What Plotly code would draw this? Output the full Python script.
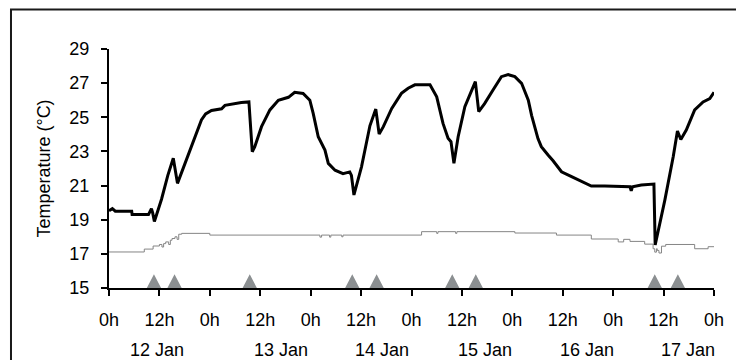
import plotly.graph_objects as go

# ---- data (hours since 12 Jan 0h, temperature in °C) ----
air_hours = [0, 0.8, 1.5, 5.4, 5.5, 9.4, 10.1, 10.4, 10.8, 12.5, 14.0, 15.3, 16.3, 17.5, 18.9,
             20.5, 22.0, 23.0, 24.4, 26.8, 27.6, 31.5, 33.3, 34.1, 34.7, 36.3, 38.3, 40.3, 42.7,
             44.2, 46.2, 47.8, 48.6, 49.8, 51.4, 52.2, 53.8, 55.7, 57.3, 57.7, 58.3, 60.1, 62.1,
             63.5, 64.3, 65.3, 67.3, 69.6, 71.2, 72.8, 76.4, 78.0, 79.5, 80.7, 81.4, 82.1, 83.1,
             84.7, 86.3, 87.2, 88.0, 89.4, 91.4, 93.4, 95.0, 96.6, 98.2, 99.8, 100.6, 101.4,
             102.1, 102.9, 103.7, 104.5, 105.7, 106.9, 107.7, 110.1, 112.4, 114.8, 118.0, 124.0,
             124.3, 124.6, 126.7, 128.7, 129.7, 130.0, 132.3, 134.3, 135.3, 136.1, 137.4, 139.4,
             141.4, 143.0, 144.0]
air_temp = [19.53, 19.65, 19.5, 19.5, 19.3, 19.3, 19.65, 19.4, 18.9, 20.2, 21.6, 22.6, 21.13,
            21.9, 22.9, 23.9, 24.84, 25.2, 25.4, 25.5, 25.7, 25.87, 25.9, 22.98, 23.28, 24.45,
            25.43, 26.0, 26.17, 26.46, 26.4, 26.0, 25.23, 23.86, 23.08, 22.3, 21.9, 21.7, 21.8,
            21.6, 20.45, 22.1, 24.5, 25.48, 24.02, 24.45, 25.52, 26.4, 26.7, 26.9, 26.9, 26.2,
            24.64, 23.77, 23.57, 22.3, 23.86, 25.62, 26.6, 27.09, 25.33, 25.8, 26.6, 27.38,
            27.5, 27.38, 26.99, 26.0, 25.1, 24.35, 23.75, 23.28, 23.0, 22.79, 22.45, 22.1, 21.81,
            21.52, 21.23, 20.97, 20.97, 20.93, 20.7, 20.93, 21.03, 21.09, 21.09, 17.52, 20.15,
            22.7, 24.2, 23.7, 24.25, 25.43, 25.9, 26.1, 26.46]

floor_hours = [0, 8.4, 10.5, 12.0, 12.6, 13.0, 13.5, 14.2, 14.6, 15.0, 15.7, 16.2, 16.6, 17.3,
               24.0, 50.2, 50.6, 52.5, 52.8, 55.4, 55.7, 74.4, 78.0, 78.3, 82.5, 82.8, 96.6,
               106.5, 114.8, 121.2, 122.5, 124.0, 127.5, 129.5, 129.9, 130.3, 130.5, 130.9,
               131.5, 132.5, 139.4, 142.6, 144.0]
floor_temp = [17.11, 17.28, 17.46, 17.55, 17.4, 17.6, 17.7, 17.55, 17.8, 17.9, 18.0, 17.85,
              18.15, 18.2, 18.1, 17.98, 18.1, 17.98, 18.1, 18.0, 18.1, 18.3, 18.2, 18.3, 18.2,
              18.3, 18.22, 18.1, 17.87, 17.7, 17.85, 17.73, 17.57, 17.3, 17.1, 17.3, 17.2,
              17.05, 17.45, 17.55, 17.3, 17.42, 17.42]

event_hours = [10.7, 15.6, 33.5, 57.9, 63.7, 81.7, 87.3, 129.9, 135.4]

tick_hours = [0, 12, 24, 36, 48, 60, 72, 84, 96, 108, 120, 132, 144]
tick_text = ["0h", "12h", "0h", "12h", "0h", "12h", "0h", "12h", "0h", "12h", "0h", "12h", "0h"]

date_labels = ["12 Jan", "13 Jan", "14 Jan", "15 Jan", "16 Jan", "17 Jan"]
date_label_hours = [11.5, 40.9, 64.9, 89.4, 113.7, 137.7]

y_ticks = [15, 17, 19, 21, 23, 25, 27, 29]

FONT = "Liberation Sans, Arial, sans-serif"

fig = go.Figure()

# event triangles (built from event hours)
tri_x, tri_y = [], []
half_w, tri_h = 1.7, 0.8
for h in event_hours:
    tri_x += [h - half_w, h, h + half_w, h - half_w, None]
    tri_y += [15, 15 + tri_h, 15, 15, None]
fig.add_trace(go.Scatter(x=tri_x, y=tri_y, mode="lines", fill="toself",
                         fillcolor="#8b8f91", line=dict(color="#8b8f91", width=0),
                         hoverinfo="skip", showlegend=False))

fig.add_trace(go.Scatter(x=floor_hours, y=floor_temp, mode="lines",
                         line=dict(color="#858585", width=1, shape="hv"),
                         showlegend=False))
fig.add_trace(go.Scatter(x=air_hours, y=air_temp, mode="lines",
                         line=dict(color="#000000", width=3),
                         showlegend=False))

for lab, h in zip(date_labels, date_label_hours):
    fig.add_annotation(x=h, y=-0.259, xref="x", yref="paper", text=lab, showarrow=False,
                       xanchor="center", yanchor="middle",
                       font=dict(family=FONT, size=18, color="#000"))

# outer frame
fig.add_shape(type="rect", xref="paper", yref="paper", x0=-0.162, x1=1.046,
              y0=-0.4, y1=1.165, line=dict(color="#1a1a1a", width=2), layer="above")

fig.update_layout(
    width=736, height=352,
    margin=dict(l=101, r=30, t=41, b=72),
    paper_bgcolor="white", plot_bgcolor="white",
    font=dict(family=FONT, size=18, color="#000"),
    showlegend=False,
    xaxis=dict(range=[0, 144], tickmode="array", tickvals=tick_hours, ticktext=tick_text,
               showgrid=False, zeroline=False, showline=True, linecolor="#000", linewidth=2,
               ticks="outside", ticklen=6, tickwidth=2, tickcolor="#000",
               ticklabelstandoff=8, tickfont=dict(size=18)),
    yaxis=dict(range=[15, 29], tickmode="array", tickvals=y_ticks,
               showgrid=False, zeroline=False, showline=True, linecolor="#000", linewidth=2,
               ticks="outside", ticklen=6, tickwidth=2, tickcolor="#000",
               ticklabelstandoff=8, tickfont=dict(size=18),
               title=dict(text="Temperature (°C)", font=dict(size=18), standoff=14)),
)

fig.write_html("out.html")
